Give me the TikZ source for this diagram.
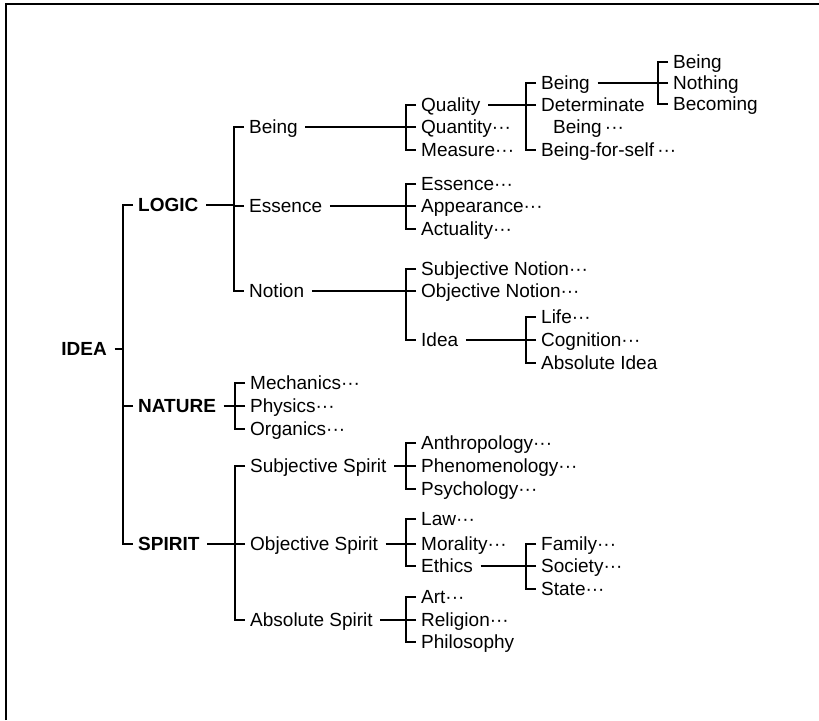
\documentclass[tikz,border=0pt]{standalone}
\usepackage{fontspec}
\setmainfont{Liberation Sans}
\newcommand{\hbrack}[5]{%
  \draw[link,shorten <=2.5pt] (#1.east) -- (#1.east -| #2);
  \draw[link] (#3.west) -- (#3.west -| #2) -- (#4.west -| #2) -- (#4.west);
  \foreach \m in {#5} {\draw[link] (\m.west) -- (\m.west -| #2);}}
\begin{document}
\begin{tikzpicture}[x=1pt,y=-1pt,
  lbl/.style={anchor=west, inner xsep=5pt, inner ysep=0pt, text height=13.6pt, text depth=0pt,
    font=\fontsize{19pt}{22pt}\selectfont},
  topl/.style={lbl, font=\fontsize{19pt}{22pt}\selectfont\bfseries},
  link/.style={line width=1.1pt, line join=miter},
  frame/.style={line width=2pt}]
\useasboundingbox (0,0) rectangle (819,720);
\draw[frame] (6,720) -- (6,3.7) -- (819,3.7);
% bracket x positions
\coordinate (b0) at (123,0);
\coordinate (bL) at (234,0);
\coordinate (bN) at (235,0);
\coordinate (bS) at (235,0);
\coordinate (b2) at (406,0);
\coordinate (b3) at (526,0);
\coordinate (b4) at (658,0);
% level 0
\node[topl, anchor=east] (idea) at (112,349) {IDEA};
% level 1
\node[topl] (logic) at (133,205) {LOGIC};
\node[topl] (nature) at (133,406) {NATURE};
\node[topl] (spirit) at (133,544) {SPIRIT};
% level 2
\node[lbl] (being) at (244,127) {Being};
\node[lbl] (essence) at (244,206) {Essence};
\node[lbl] (notion) at (244,291) {Notion};
\node[lbl] (mech) at (245,383) {Mechanics···};
\node[lbl] (phys) at (245,406) {Physics···};
\node[lbl] (organ) at (245,429) {Organics···};
\node[lbl] (subjs) at (245,466) {Subjective Spirit};
\node[lbl] (objs) at (245,544) {Objective Spirit};
\node[lbl] (abss) at (245,620) {Absolute Spirit};
% level 3
\node[lbl] (quality) at (416,105) {Quality};
\node[lbl] (quantity) at (416,127) {Quantity···};
\node[lbl] (measure) at (416,150) {Measure···};
\node[lbl] (ess2) at (416,184) {Essence···};
\node[lbl] (appear) at (416,206) {Appearance···};
\node[lbl] (actual) at (416,229) {Actuality···};
\node[lbl] (subjn) at (416,269) {Subjective Notion···};
\node[lbl] (objn) at (416,291) {Objective Notion···};
\node[lbl] (idea2) at (416,340) {Idea};
\node[lbl] (anthro) at (416,443) {Anthropology···};
\node[lbl] (phenom) at (416,466) {Phenomenology···};
\node[lbl] (psych) at (416,489) {Psychology···};
\node[lbl] (law) at (416,519) {Law···};
\node[lbl] (moral) at (416,544) {Morality···};
\node[lbl] (ethics) at (416,566) {Ethics};
\node[lbl] (art) at (416,597) {Art···};
\node[lbl] (relig) at (416,620) {Religion···};
\node[lbl] (philo) at (416,642) {Philosophy};
% level 4
\node[lbl] (being4) at (536,83) {Being};
\node[lbl] (determ) at (536,105) {Determinate};
\node[lbl] (determb) at (548,127) {Being\,···};
\node[lbl] (bfs) at (536,150) {Being-for-self\,···};
\node[lbl] (life) at (536,317) {Life···};
\node[lbl] (cogn) at (536,340) {Cognition···};
\node[lbl] (absidea) at (536,363) {Absolute Idea};
\node[lbl] (family) at (536,544) {Family···};
\node[lbl] (society) at (536,566) {Society···};
\node[lbl] (state) at (536,589) {State···};
% level 5
\node[lbl] (being5) at (668,62) {Being};
\node[lbl] (nothing) at (668,83) {Nothing};
\node[lbl] (becoming) at (668,104) {Becoming};
% brackets
\hbrack{idea}{b0}{logic}{spirit}{nature}
\hbrack{logic}{bL}{being}{notion}{essence}
\hbrack{nature}{bN}{mech}{organ}{phys}
\hbrack{spirit}{bS}{subjs}{abss}{objs}
\hbrack{being}{b2}{quality}{measure}{quantity}
\hbrack{essence}{b2}{ess2}{actual}{appear}
\hbrack{notion}{b2}{subjn}{idea2}{objn}
\hbrack{subjs}{b2}{anthro}{psych}{phenom}
\hbrack{objs}{b2}{law}{ethics}{moral}
\hbrack{abss}{b2}{art}{philo}{relig}
\hbrack{quality}{b3}{being4}{bfs}{determ}
\hbrack{idea2}{b3}{life}{absidea}{cogn}
\hbrack{ethics}{b3}{family}{state}{society}
\hbrack{being4}{b4}{being5}{becoming}{nothing}
\end{tikzpicture}
\end{document}
